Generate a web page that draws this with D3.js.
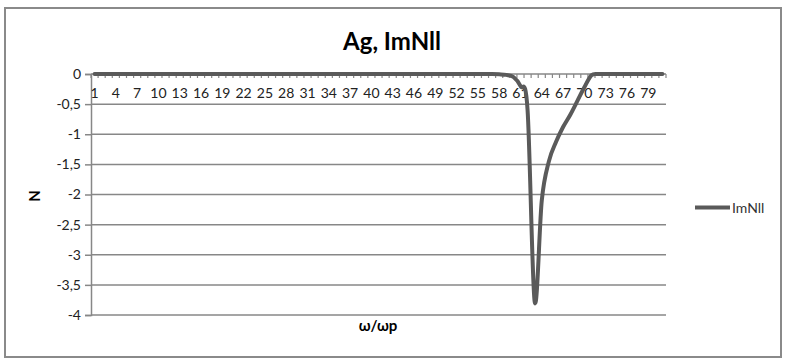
<!DOCTYPE html>
<html>
<head>
<meta charset="utf-8">
<script src="https://cdn.jsdelivr.net/npm/d3@7/dist/d3.min.js"></script>
<style>
html,body{margin:0;padding:0;background:#fff;}
svg{display:block;}
</style>
</head>
<body>
<svg id="chart" width="787" height="362"></svg>
<script>
const categories = [1,2,3,4,5,6,7,8,9,10,11,12,13,14,15,16,17,18,19,20,
  21,22,23,24,25,26,27,28,29,30,31,32,33,34,35,36,37,38,39,40,
  41,42,43,44,45,46,47,48,49,50,51,52,53,54,55,56,57,58,59,60,
  61,62,63,64,65,66,67,68,69,70,71,72,73,74,75,76,77,78,79,80,81];
const imNll = [0,0,0,0,0,0,0,0,0,0,0,0,0,0,0,0,0,0,0,0,
  0,0,0,0,0,0,0,0,0,0,0,0,0,0,0,0,0,0,0,0,
  0,0,0,0,0,0,0,0,0,0,0,0,0,0,0,0,0,-0.005,-0.015,-0.05,
  -0.2,-0.6,-3.78,-2.1,-1.45,-1.13,-0.88,-0.68,-0.45,-0.22,-0.02,0,0,0,0,0,0,0,0,0,0];
const xTickLabels = [1,4,7,10,13,16,19,22,25,28,31,34,37,40,43,46,49,52,55,58,61,64,67,70,73,76,79];
const yTicks = [0,-0.5,-1,-1.5,-2,-2.5,-3,-3.5,-4];
const title = "Ag, ImNll";
const seriesName = "ImNll";
const xTitle = "ω/ωp";
const yTitle = "N";

(function(){
const svg = d3.select("#chart");
const FONT = "Lato, 'Open Sans', sans-serif";
const gridColor = "#878787";
const lineColor = "#5a5a5a";

// outer border
svg.append("rect").attr("x",5).attr("y",8).attr("width",776).attr("height",349)
  .attr("fill","#fff").attr("stroke","#8a8a8a").attr("stroke-width",2);

const pL = 91, pR = 666, pT = 74, pB = 315;
const x = d3.scaleBand().domain(categories).range([pL, pR]).padding(0);
const y = d3.scaleLinear().domain([-4, 0]).range([pB, pT]);
const cx = c => x(c) + x.bandwidth()/2;

// gridlines (excluding zero which is the category axis)
svg.append("g").selectAll("line").data(yTicks.filter(v => v !== 0)).join("line")
  .attr("x1", pL).attr("x2", pR)
  .attr("y1", d => y(d)).attr("y2", d => y(d))
  .attr("stroke", gridColor).attr("stroke-width", 1.5);

// y axis
const yAxis = d3.axisLeft(y).tickValues(yTicks).tickSize(6).tickPadding(4)
  .tickFormat(d => String(d).replace(".", ","));
const gy = svg.append("g").attr("transform", `translate(${pL},0)`).call(yAxis);
gy.select(".domain").attr("stroke", gridColor).attr("stroke-width", 1.5);
gy.selectAll(".tick line").attr("stroke", gridColor).attr("stroke-width", 1.5);
gy.selectAll(".tick text").attr("font-family", FONT).attr("font-size", 14).attr("fill", "#222");

// x axis at y=0 with ticks between categories
const gx = svg.append("g");
gx.append("line").attr("x1", pL).attr("x2", pR).attr("y1", y(0)).attr("y2", y(0))
  .attr("stroke", gridColor).attr("stroke-width", 1.5);
const boundaries = categories.map(c => x(c)).concat([pR]);
gx.selectAll("line.tk").data(boundaries).join("line").attr("class","tk")
  .attr("x1", d => d).attr("x2", d => d).attr("y1", y(0)).attr("y2", y(0) + 4)
  .attr("stroke", gridColor).attr("stroke-width", 1.2);
gx.selectAll("text").data(xTickLabels).join("text")
  .attr("x", d => cx(d)).attr("y", 98)
  .attr("text-anchor", "middle")
  .attr("font-family", FONT).attr("font-size", 14).attr("fill", "#222")
  .text(d => d);

// line
const line = d3.line().x((d, i) => cx(categories[i])).y(d => y(d)).curve(d3.curveCardinal.tension(0));
svg.append("path").datum(imNll).attr("d", line)
  .attr("fill", "none").attr("stroke", lineColor).attr("stroke-width", 4)
  .attr("stroke-linejoin", "round").attr("stroke-linecap", "round");

// title
svg.append("text").attr("x", 392).attr("y", 50).attr("text-anchor", "middle")
  .attr("font-family", FONT).attr("font-weight", "bold").attr("font-size", 24).attr("fill", "#000")
  .text(title);

// axis titles
svg.append("text").attr("x", 378).attr("y", 331).attr("text-anchor", "middle")
  .attr("font-family", FONT).attr("font-weight", "bold").attr("font-size", 15).attr("fill", "#000")
  .text(xTitle);
svg.append("text").attr("transform", "translate(40,196) rotate(-90)").attr("text-anchor", "middle")
  .attr("font-family", FONT).attr("font-weight", "bold").attr("font-size", 15).attr("fill", "#000")
  .text(yTitle);

// legend
svg.append("line").attr("x1", 695).attr("x2", 730).attr("y1", 207.5).attr("y2", 207.5)
  .attr("stroke", lineColor).attr("stroke-width", 4);
svg.append("text").attr("x", 732).attr("y", 212.5).attr("font-family", FONT).attr("font-size", 14)
  .attr("fill", "#333").text(seriesName);
})();
</script>
</body>
</html>
